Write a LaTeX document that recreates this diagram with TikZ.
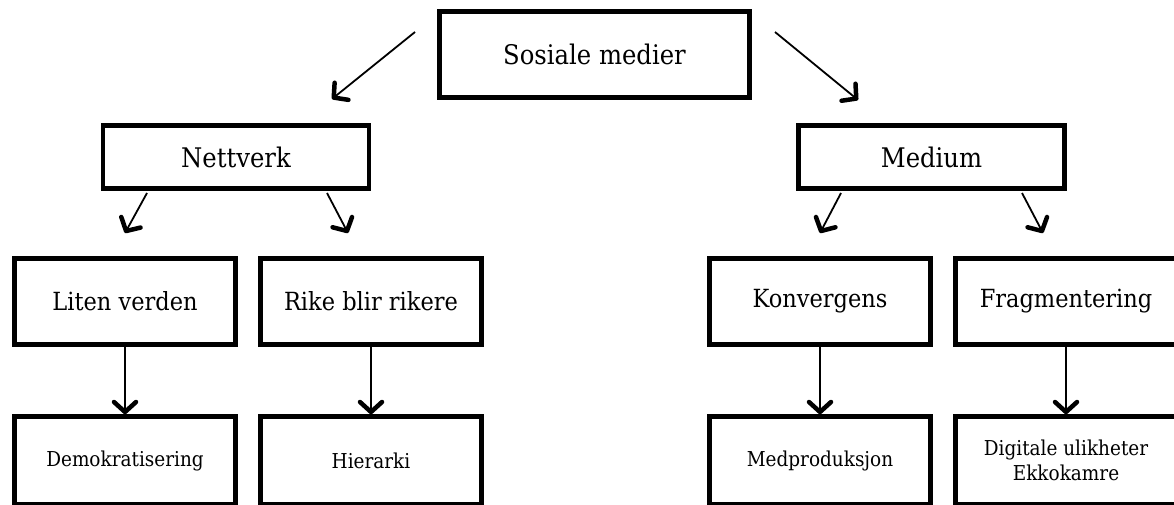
\documentclass[tikz,border=0pt]{standalone}
\usepackage{fontspec}
\setmainfont{DejaVu Serif}[FakeStretch=0.9]
\usetikzlibrary{arrows.meta}
\begin{document}
\begin{tikzpicture}[x=1pt,y=-1pt,
  box/.style={draw, line width=4.5pt, inner sep=0pt, align=center},
  topbox/.style={box, minimum width=310pt, minimum height=86pt, font=\fontsize{27}{32}\selectfont},
  midbox/.style={box, minimum width=266pt, minimum height=63pt, font=\fontsize{27}{32}\selectfont},
  lvtwo/.style={box, minimum width=221pt, minimum height=86pt, font=\fontsize{25}{30}\selectfont},
  lvthree/.style={box, minimum width=221pt, minimum height=88pt, font=\fontsize{20.5}{25}\selectfont},
  conn/.style={line width=1.8pt, -{Straight Barb[length=10pt, width=22pt, line width=4.5pt, round]}}
]
\useasboundingbox (0,0) rectangle (1174,505);
\clip (0,0) rectangle (1174,505);

\node[topbox] (sm) at (594.5,54.5) {Sosiale medier};
\node[midbox] (nv) at (236,157) {Nettverk};
\node[midbox] (md) at (931.5,157) {Medium};

\node[lvtwo] (lv) at (125,301.5) {Liten verden};
\node[lvtwo] (rb) at (371,301.5) {Rike blir rikere};
\node[lvtwo] (kv) at (820,301.5) {Konvergens};
\node[lvtwo] (fr) at (1066,301.5) {Fragmentering};

\node[lvthree] (dk) at (125,460.5) {Demokratisering};
\node[lvthree] (hi) at (371,460.5) {Hierarki};
\node[lvthree] (mp) at (820,460.5) {Medproduksjon};
\node[lvthree] (du) at (1066,460.5) {Digitale ulikheter\\Ekkokamre};

\coordinate (a1s) at (415,32);  \coordinate (a1e) at (332,99);
\coordinate (a2s) at (775,32);  \coordinate (a2e) at (858,100);
\coordinate (b1s) at (147,193); \coordinate (b1e) at (125,233);
\coordinate (b2s) at (327,193); \coordinate (b2e) at (348,233);
\coordinate (c1s) at (841,193); \coordinate (c1e) at (820,233);
\coordinate (c2s) at (1022,193);\coordinate (c2e) at (1043,233);

\draw[conn] (a1s) -- (a1e);
\draw[conn] (a2s) -- (a2e);
\draw[conn] (b1s) -- (b1e);
\draw[conn] (b2s) -- (b2e);
\draw[conn] (c1s) -- (c1e);
\draw[conn] (c2s) -- (c2e);

\draw[conn] (lv.south) -- (dk.north);
\draw[conn] (rb.south) -- (hi.north);
\draw[conn] (kv.south) -- (mp.north);
\draw[conn] (fr.south) -- (du.north);
\end{tikzpicture}
\end{document}
